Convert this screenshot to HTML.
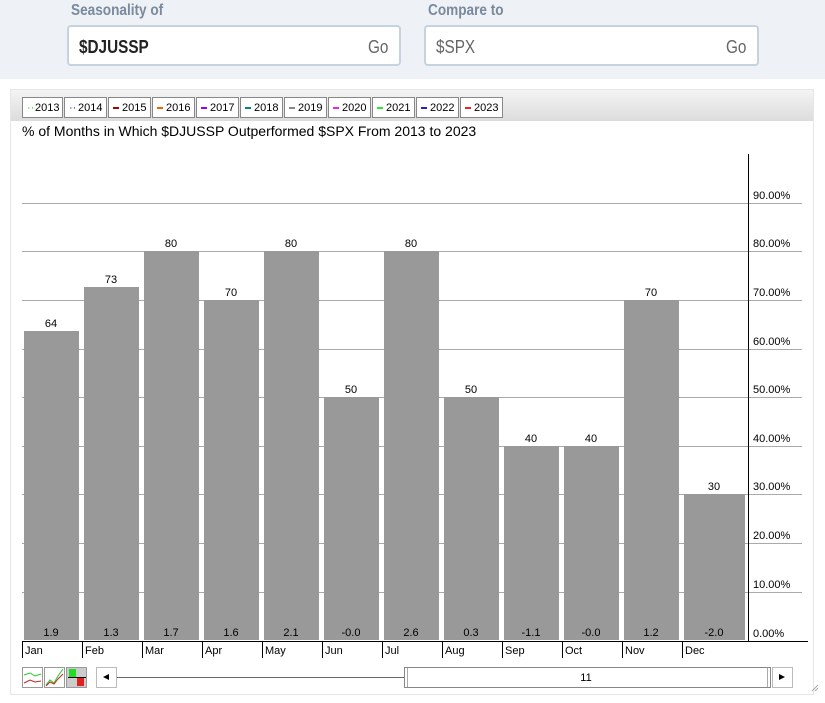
<!DOCTYPE html>
<html><head><meta charset="utf-8"><style>
body{margin:0;width:825px;height:703px;background:#fff;font-family:"Liberation Sans",sans-serif;overflow:hidden;position:relative}
.top{position:absolute;left:0;top:0;width:825px;height:79px;background:#eef1f5}
.lbl{position:absolute;top:2px;font-size:16px;font-weight:bold;color:#7a8a9c;transform:scaleX(0.85);transform-origin:left}
.inp{position:absolute;top:25px;height:41px;background:#fff;border:2px solid #c5d3df;border-radius:4px;box-sizing:border-box}
.inp span{position:absolute;top:10px;font-size:18px;transform:scaleX(0.85);transform-origin:left}
</style></head><body>
<div class="top">
<div class="lbl" style="left:71px">Seasonality of</div>
<div class="lbl" style="left:428px">Compare to</div>
<div class="inp" style="left:67px;width:334px"><span style="left:10px;font-weight:bold;color:#222">$DJUSSP</span><span style="left:299px;color:#666">Go</span></div>
<div class="inp" style="left:424px;width:335px"><span style="left:10px;color:#666">$SPX</span><span style="left:300px;color:#666">Go</span></div>
</div>
<svg width="825" height="703" style="position:absolute;left:0;top:0" font-family="Liberation Sans, sans-serif">
<defs><linearGradient id="g" x1="0" y1="0" x2="0" y2="1"><stop offset="0" stop-color="#f4f4f4"/><stop offset="1" stop-color="#dcdcdc"/></linearGradient></defs>
<rect x="10.5" y="89.5" width="803" height="605" fill="#fff" stroke="#e6e6e6"/>
<rect x="11" y="90" width="802" height="31" fill="url(#g)"/>
<g font-size="11" fill="#000">
<script>/* */</script>
</g>
<g id="leg"></g>
<text x="22" y="136" font-size="14" fill="#000">% of Months in Which $DJUSSP Outperformed $SPX From 2013 to 2023</text>
<g stroke="#aaa" stroke-width="1">
<line x1="22" x2="802" y1="203.5" y2="203.5"/><line x1="22" x2="802" y1="251.5" y2="251.5"/><line x1="22" x2="802" y1="300.5" y2="300.5"/><line x1="22" x2="802" y1="349.5" y2="349.5"/><line x1="22" x2="802" y1="397.5" y2="397.5"/><line x1="22" x2="802" y1="446.5" y2="446.5"/><line x1="22" x2="802" y1="494.5" y2="494.5"/><line x1="22" x2="802" y1="543.5" y2="543.5"/><line x1="22" x2="802" y1="592.5" y2="592.5"/>
</g>
<g fill="#999">
<rect x="24" y="331" width="55" height="309"/><rect x="84" y="287" width="55" height="353"/><rect x="144" y="251" width="55" height="389"/><rect x="204" y="300" width="55" height="340"/><rect x="264" y="251" width="55" height="389"/><rect x="324" y="397" width="55" height="243"/><rect x="384" y="251" width="55" height="389"/><rect x="444" y="397" width="55" height="243"/><rect x="504" y="446" width="55" height="194"/><rect x="564" y="446" width="55" height="194"/><rect x="624" y="300" width="55" height="340"/><rect x="684" y="494" width="61" height="146"/>
</g>
<g font-size="11" text-anchor="middle" fill="#000">
<text x="51" y="327">64</text><text x="111" y="283">73</text><text x="171" y="247">80</text><text x="231" y="296">70</text><text x="291" y="247">80</text><text x="351" y="393">50</text><text x="411" y="247">80</text><text x="471" y="393">50</text><text x="531" y="442">40</text><text x="591" y="442">40</text><text x="651" y="296">70</text><text x="714" y="490">30</text>
<text x="51" y="636">1.9</text><text x="111" y="636">1.3</text><text x="171" y="636">1.7</text><text x="231" y="636">1.6</text><text x="291" y="636">2.1</text><text x="351" y="636">-0.0</text><text x="411" y="636">2.6</text><text x="471" y="636">0.3</text><text x="531" y="636">-1.1</text><text x="591" y="636">-0.0</text><text x="651" y="636">1.2</text><text x="714" y="636">-2.0</text>
</g>
<line x1="748.5" x2="748.5" y1="154" y2="641" stroke="#000"/>
<line x1="22" x2="808" y1="641.5" y2="641.5" stroke="#000"/>
<g font-size="11" fill="#000">
<text x="753" y="199">90.00%</text><text x="753" y="247">80.00%</text><text x="753" y="296">70.00%</text><text x="753" y="345">60.00%</text><text x="753" y="393">50.00%</text><text x="753" y="442">40.00%</text><text x="753" y="490">30.00%</text><text x="753" y="539">20.00%</text><text x="753" y="588">10.00%</text><text x="753" y="637">0.00%</text>
</g>
<g stroke="#000"><line x1="22.5" x2="22.5" y1="641" y2="658"/><line x1="82.5" x2="82.5" y1="641" y2="658"/><line x1="142.5" x2="142.5" y1="641" y2="658"/><line x1="202.5" x2="202.5" y1="641" y2="658"/><line x1="262.5" x2="262.5" y1="641" y2="658"/><line x1="322.5" x2="322.5" y1="641" y2="658"/><line x1="382.5" x2="382.5" y1="641" y2="658"/><line x1="442.5" x2="442.5" y1="641" y2="658"/><line x1="502.5" x2="502.5" y1="641" y2="658"/><line x1="562.5" x2="562.5" y1="641" y2="658"/><line x1="622.5" x2="622.5" y1="641" y2="658"/><line x1="682.5" x2="682.5" y1="641" y2="658"/></g>
<g font-size="11" fill="#000"><text x="25" y="654">Jan</text><text x="85" y="654">Feb</text><text x="145" y="654">Mar</text><text x="205" y="654">Apr</text><text x="265" y="654">May</text><text x="325" y="654">Jun</text><text x="385" y="654">Jul</text><text x="445" y="654">Aug</text><text x="505" y="654">Sep</text><text x="565" y="654">Oct</text><text x="625" y="654">Nov</text><text x="685" y="654">Dec</text></g>
<rect x="22.5" y="667.5" width="20" height="20" fill="#fff" stroke="#999"/>
<polyline points="24,675 30,673 35,676 41,674" fill="none" stroke="#2c2"/><polyline points="24,683 30,680 35,682 41,681" fill="none" stroke="#c22"/>
<rect x="44.5" y="667.5" width="20" height="20" fill="#fff" stroke="#999"/>
<polyline points="46,685 50,680 54,683 58,676 63,669" fill="none" stroke="#2c2"/><polyline points="46,686 50,682 54,684 58,679 63,674" fill="none" stroke="#c22"/>
<rect x="66.5" y="667.5" width="20" height="20" fill="#ccc" stroke="#999"/>
<rect x="69" y="669" width="7" height="8" fill="#2d2"/><rect x="77" y="678" width="7" height="8" fill="#d22"/><line x1="68" x2="86" y1="677.5" y2="677.5" stroke="#000"/>
<rect x="96.5" y="667.5" width="20" height="20" fill="#fff" stroke="#bbb"/><polygon points="103,677 109,674 109,680" fill="#000"/>
<line x1="117" x2="405" y1="677.5" y2="677.5" stroke="#666"/>
<rect x="404.5" y="667.5" width="366" height="20" fill="#fff" stroke="#888"/>
<line x1="407.5" x2="407.5" y1="668" y2="687" stroke="#aaa"/><line x1="767.5" x2="767.5" y1="668" y2="687" stroke="#aaa"/>
<text x="586" y="681" font-size="11" text-anchor="middle">11</text>
<rect x="772.5" y="667.5" width="20" height="20" fill="#fff" stroke="#bbb"/><polygon points="779,674 785,677 779,680" fill="#000"/>
<g font-size="11" fill="#000">
<rect x="22.5" y="97.5" width="40" height="20" fill="#fff" stroke="#888"/><text x="27" y="111" fill="#2c2">··</text><text x="35" y="111">2013</text>
<rect x="64.5" y="97.5" width="42" height="20" fill="#fff" stroke="#888"/><text x="69" y="111" fill="#22a">··</text><text x="78" y="111">2014</text>
<rect x="108.5" y="97.5" width="42" height="20" fill="#fff" stroke="#888"/><rect x="113" y="107" width="6" height="2" fill="#a00"/><text x="122" y="111">2015</text>
<rect x="152.5" y="97.5" width="42" height="20" fill="#fff" stroke="#888"/><rect x="157" y="107" width="6" height="2" fill="#e60"/><text x="166" y="111">2016</text>
<rect x="196.5" y="97.5" width="42" height="20" fill="#fff" stroke="#888"/><rect x="201" y="107" width="6" height="2" fill="#90e"/><text x="210" y="111">2017</text>
<rect x="240.5" y="97.5" width="42" height="20" fill="#fff" stroke="#888"/><rect x="245" y="107" width="6" height="2" fill="#088"/><text x="254" y="111">2018</text>
<rect x="284.5" y="97.5" width="42" height="20" fill="#fff" stroke="#888"/><rect x="289" y="107" width="6" height="2" fill="#888"/><text x="298" y="111">2019</text>
<rect x="328.5" y="97.5" width="42" height="20" fill="#fff" stroke="#888"/><rect x="333" y="107" width="6" height="2" fill="#e2e"/><text x="342" y="111">2020</text>
<rect x="372.5" y="97.5" width="42" height="20" fill="#fff" stroke="#888"/><rect x="377" y="107" width="6" height="2" fill="#2e2"/><text x="386" y="111">2021</text>
<rect x="416.5" y="97.5" width="42" height="20" fill="#fff" stroke="#888"/><rect x="421" y="107" width="6" height="2" fill="#22c"/><text x="430" y="111">2022</text>
<rect x="460.5" y="97.5" width="42" height="20" fill="#fff" stroke="#888"/><rect x="465" y="107" width="6" height="2" fill="#e22"/><text x="474" y="111">2023</text>
</g>
<g stroke="#aaa"><line x1="812" y1="691" x2="818" y2="685"/><line x1="815" y1="691" x2="818" y2="688"/></g>
</svg>
</body></html>
